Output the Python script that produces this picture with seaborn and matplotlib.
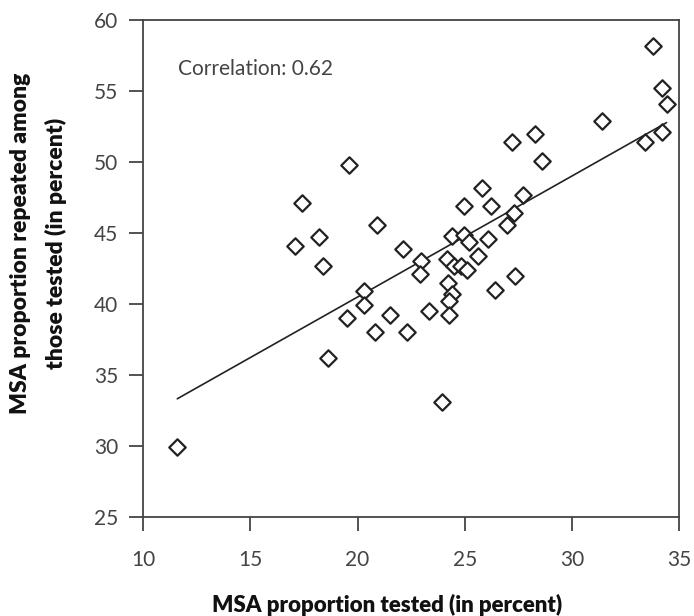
import pandas as pd
import numpy as np
import matplotlib
matplotlib.use('Agg')
import matplotlib.pyplot as plt
import seaborn as sns

# MSA values
pct_tested = [11.6, 19.6, 17.4, 20.9, 18.2, 17.1, 18.4, 20.3, 20.3, 19.5,
              21.5, 20.8, 18.6, 22.1, 25.8, 27.7, 24.95, 26.2, 27.3, 26.95,
              24.4, 24.95, 25.2, 26.1, 22.95, 22.9, 24.15, 24.5, 24.8, 25.1,
              25.6, 24.2, 24.4, 24.25, 24.25, 23.35, 22.3, 26.4, 27.35, 23.95,
              33.75, 34.2, 34.4, 34.2, 33.4, 31.4, 28.25, 27.2, 28.6]
pct_repeated = [29.9, 49.8, 47.1, 45.6, 44.7, 44.1, 42.7, 40.9, 39.9, 39.0,
                39.2, 38.0, 36.2, 43.9, 48.2, 47.7, 46.9, 46.9, 46.4, 45.6,
                44.8, 44.9, 44.4, 44.6, 43.0, 42.1, 43.2, 42.7, 42.7, 42.4,
                43.4, 41.5, 40.7, 40.2, 39.2, 39.5, 38.0, 41.0, 42.0, 33.1,
                58.2, 55.2, 54.1, 52.1, 51.4, 52.9, 52.0, 51.4, 50.1]
corr_label = 'Correlation: 0.62'

df = pd.DataFrame({'tested': pct_tested, 'repeated': pct_repeated})

sns.set_style('ticks')
plt.rcParams['font.family'] = ['Lato', 'DejaVu Sans']

fig = plt.figure(figsize=(6.94, 6.16), dpi=100)
ax = fig.add_axes([0.206, 0.161, 0.773, 0.806])

sns.regplot(data=df, x='tested', y='repeated', scatter=False, ci=None,
            color='#222222', line_kws={'linewidth': 1.2}, ax=ax)
sns.scatterplot(data=df, x='tested', y='repeated', marker='D', s=70,
                facecolor='white', edgecolor='#222222', linewidth=1.6,
                ax=ax, zorder=3)

ax.set_xlim(10, 35)
ax.set_ylim(25, 60)
ax.set_xticks([10, 15, 20, 25, 30, 35])
ax.set_yticks([25, 30, 35, 40, 45, 50, 55, 60])

for side in ['left', 'right', 'top', 'bottom']:
    ax.spines[side].set_color('#444444')
    ax.spines[side].set_linewidth(1.3)

ax.tick_params(axis='both', direction='out', length=10, width=1.3,
               color='#444444', labelsize=15, labelcolor='#444444')
ax.tick_params(axis='x', pad=14)
ax.tick_params(axis='y', pad=8)

ax.text(11.65, 56.6, corr_label, fontsize=15, color='#444444',
        va='center', ha='left')

ax.set_xlabel('MSA proportion tested (in percent)', fontsize=16,
              fontweight='heavy', color='#111111')
ax.xaxis.set_label_coords(0.455, -0.155)
ax.set_ylabel('MSA proportion repeated among\nthose tested (in percent)',
              fontsize=16.5, fontweight='heavy', color='#111111',
              linespacing=1.75)
ax.yaxis.set_label_coords(-0.142, 0.55)

fig.savefig('out.png', dpi=100)
